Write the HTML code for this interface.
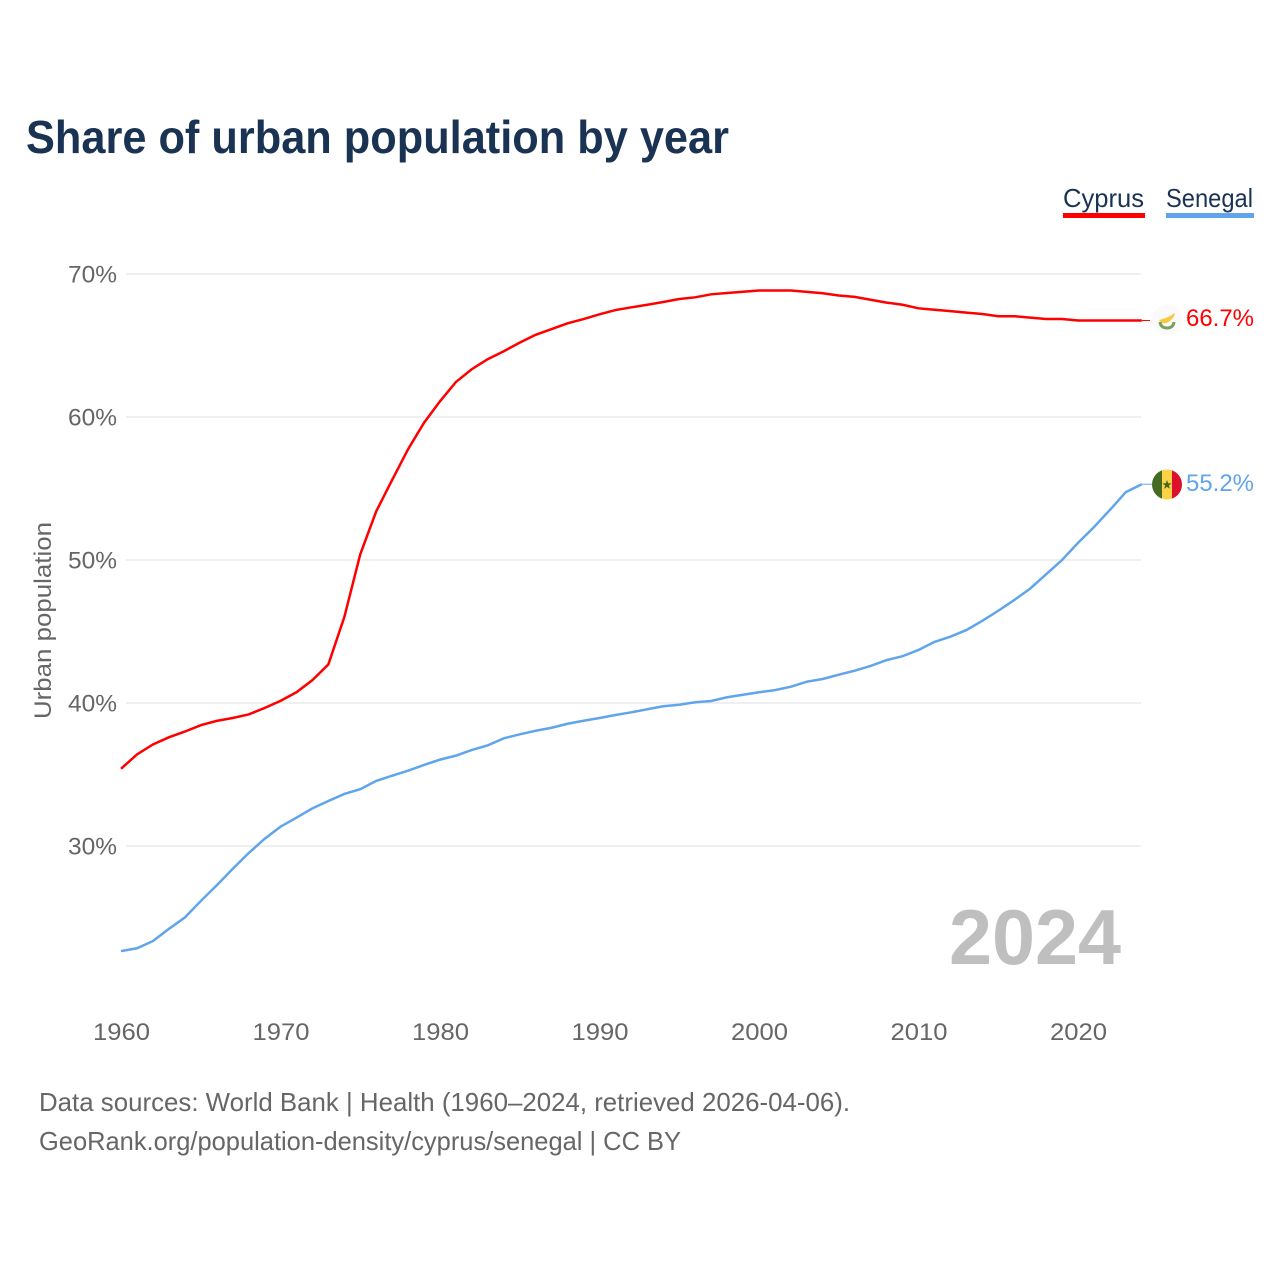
<!DOCTYPE html>
<html lang="en">
<head>
<meta charset="utf-8">
<title>Share of urban population by year</title>
<style>
html,body{margin:0;padding:0;background:#fff;width:1280px;height:1280px;overflow:hidden}
svg{display:block}
text{font-family:"Liberation Sans",Arial,sans-serif}
</style>
</head>
<body>
<svg id="chart" xmlns="http://www.w3.org/2000/svg" width="1280" height="1280" viewBox="0 0 1280 1280">
  <rect x="0" y="0" width="1280" height="1280" fill="#ffffff"/>
  <text x="26" y="153" font-size="46" font-weight="700" fill="#1a3353" textLength="703" lengthAdjust="spacingAndGlyphs">Share of urban population by year</text>

  <g id="grid"></g>
  <g id="yticks"></g>
  <g id="xticks"></g>

  <text transform="translate(51,620.5) rotate(-90)" text-anchor="middle" font-size="24" fill="#666666" textLength="197" lengthAdjust="spacingAndGlyphs">Urban population</text>

  <text x="1121" y="964" text-anchor="end" font-size="78" font-weight="700" fill="#bfbfbf" textLength="172" lengthAdjust="spacingAndGlyphs">2024</text>

  <g id="series"></g>

  <g>
    <text x="1063" y="207" font-size="26" fill="#1a3353" textLength="81" lengthAdjust="spacingAndGlyphs">Cyprus</text>
    <rect x="1063" y="213" width="82" height="5" fill="#ff0000"/>
  </g>
  <g>
    <text x="1166" y="207" font-size="26" fill="#1a3353" textLength="87" lengthAdjust="spacingAndGlyphs">Senegal</text>
    <rect x="1166" y="213" width="88" height="5" fill="#60a5ec"/>
  </g>

  <g id="flag-cyprus">
    <circle cx="1167" cy="320" r="15" fill="#fafafa"/>
    <path d="M1159 320 C1163 319 1170 317 1174.500 313 C1175 316 1173 318 1171 320 C1168.500 323 1164 324 1161 322.500 Z" fill="#f7c93f"/>
    <path d="M1160 322 C1160.500 326 1163 328 1167 328 C1171 328 1173.500 326 1174 322" fill="none" stroke="#7ba05b" stroke-width="3"/>
  </g>
  <g id="flag-senegal">
    <clipPath id="sn-clip"><circle cx="1167" cy="484.500" r="15"/></clipPath>
    <g clip-path="url(#sn-clip)">
      <rect x="1152" y="469" width="10" height="31" fill="#456b22"/>
      <rect x="1162" y="469" width="10" height="31" fill="#fdd247"/>
      <rect x="1172" y="469" width="10" height="31" fill="#dc0f2c"/>
      <polygon points="1167,480 1168.200,483.300 1171.700,483.400 1168.900,485.500 1169.900,488.900 1167,486.900 1164.100,488.900 1165.100,485.500 1162.300,483.400 1165.800,483.300" fill="#456b22"/>
    </g>
  </g>

  <text x="1186" y="326" font-size="24" fill="#ff0000" textLength="68" lengthAdjust="spacingAndGlyphs">66.7%</text>
  <text x="1186" y="491" font-size="24" fill="#60a5ec" textLength="68" lengthAdjust="spacingAndGlyphs">55.2%</text>

  <text x="39" y="1111" font-size="26" fill="#666666" textLength="811" lengthAdjust="spacingAndGlyphs">Data sources: World Bank | Health (1960–2024, retrieved 2026-04-06).</text>
  <text x="39" y="1150" font-size="26" fill="#666666" textLength="642" lengthAdjust="spacingAndGlyphs">GeoRank.org/population-density/cyprus/senegal | CC BY</text>
</svg>
<script>
const startYear = 1960;
const yTickValues = [30, 40, 50, 60, 70];
const xTickValues = [1960, 1970, 1980, 1990, 2000, 2010, 2020];
const cyprusValues = [
  35.4, 36.4, 37.1, 37.6, 38.0, 38.45, 38.75, 38.95, 39.2, 39.65,
  40.15, 40.75, 41.6, 42.7, 46.0, 50.4, 53.4, 55.6, 57.75, 59.6,
  61.1, 62.45, 63.35, 64.05, 64.6, 65.2, 65.75, 66.15, 66.55, 66.85,
  67.18, 67.48, 67.67, 67.85, 68.04, 68.25, 68.37, 68.58, 68.67, 68.76,
  68.85, 68.85, 68.85, 68.75, 68.65, 68.5, 68.4, 68.2, 68.0, 67.85,
  67.6, 67.5, 67.4, 67.3, 67.2, 67.05, 67.05, 66.95, 66.85, 66.85,
  66.75, 66.75, 66.75, 66.75, 66.75
];
const senegalValues = [
  22.65, 22.85, 23.35, 24.2, 25.0, 26.15, 27.25, 28.4, 29.5, 30.5,
  31.35, 31.98, 32.63, 33.15, 33.64, 33.97, 34.55, 34.92, 35.27, 35.67,
  36.04, 36.32, 36.72, 37.04, 37.53, 37.81, 38.06, 38.27, 38.55, 38.76,
  38.95, 39.16, 39.35, 39.56, 39.77, 39.88, 40.05, 40.14, 40.4, 40.58,
  40.75, 40.9, 41.14, 41.49, 41.68, 41.98, 42.26, 42.59, 43.0, 43.27,
  43.71, 44.27, 44.64, 45.1, 45.75, 46.45, 47.2, 48.0, 49.0, 50.0,
  51.2, 52.3, 53.5, 54.75, 55.3
];

const NS = 'http://www.w3.org/2000/svg';
function xScale(year) { return 121 + (year - 1960) * 15.95; }
function yScale(value) { return 274 + (70 - value) * 14.3; }

const gridLayer = document.getElementById('grid');
const yLayer = document.getElementById('yticks');
const xLayer = document.getElementById('xticks');
const seriesLayer = document.getElementById('series');

yTickValues.forEach(function (v) {
  const line = document.createElementNS(NS, 'line');
  
  
  line.setAttribute('x1', 126);
  line.setAttribute('x2', 1141);
  line.setAttribute('y1', yScale(v));
  line.setAttribute('y2', yScale(v));
  line.setAttribute('stroke', '#efefef');
  line.setAttribute('stroke-width', 2);
  gridLayer.appendChild(line);

  const label = document.createElementNS(NS, 'text');
  
  
  label.setAttribute('x', 117);
  label.setAttribute('y', yScale(v) + 8.5);
  label.setAttribute('text-anchor', 'end');
  label.setAttribute('font-size', 24);
  label.setAttribute('fill', '#666666');
  label.setAttribute('textLength', 49);
  label.setAttribute('lengthAdjust', 'spacingAndGlyphs');
  label.textContent = v + '%';
  yLayer.appendChild(label);
});

xTickValues.forEach(function (y) {
  const label = document.createElementNS(NS, 'text');
  
  
  label.setAttribute('x', xScale(y) + 0.5);
  label.setAttribute('y', 1040);
  label.setAttribute('text-anchor', 'middle');
  label.setAttribute('font-size', 24);
  label.setAttribute('fill', '#666666');
  label.setAttribute('textLength', 57);
  label.setAttribute('lengthAdjust', 'spacingAndGlyphs');
  label.textContent = y;
  xLayer.appendChild(label);
});

function toPoints(values) {
  return values.map(function (v, i) {
    return xScale(startYear + i).toFixed(2) + ',' + yScale(v).toFixed(2);
  }).join(' ');
}

const cyprusLine = document.createElementNS(NS, 'polyline');


cyprusLine.setAttribute('points', toPoints(cyprusValues));
cyprusLine.setAttribute('fill', 'none');
cyprusLine.setAttribute('stroke', '#ff0000');
cyprusLine.setAttribute('stroke-width', 2.5);
seriesLayer.appendChild(cyprusLine);

const senegalLine = document.createElementNS(NS, 'polyline');


senegalLine.setAttribute('points', toPoints(senegalValues));
senegalLine.setAttribute('fill', 'none');
senegalLine.setAttribute('stroke', '#60a5ec');
senegalLine.setAttribute('stroke-width', 2.5);
seriesLayer.appendChild(senegalLine);

const lastYear = startYear + cyprusValues.length - 1;

const cyprusLeader = document.createElementNS(NS, 'line');


cyprusLeader.setAttribute('x1', xScale(lastYear));
cyprusLeader.setAttribute('x2', 1150);
cyprusLeader.setAttribute('y1', yScale(cyprusValues[cyprusValues.length - 1]));
cyprusLeader.setAttribute('y2', yScale(cyprusValues[cyprusValues.length - 1]));
cyprusLeader.setAttribute('stroke', '#ff0000');
cyprusLeader.setAttribute('stroke-width', 1);
seriesLayer.appendChild(cyprusLeader);

const senegalLeader = document.createElementNS(NS, 'line');


senegalLeader.setAttribute('x1', xScale(lastYear));
senegalLeader.setAttribute('x2', 1152);
senegalLeader.setAttribute('y1', yScale(senegalValues[senegalValues.length - 1]));
senegalLeader.setAttribute('y2', yScale(senegalValues[senegalValues.length - 1]));
senegalLeader.setAttribute('stroke', '#60a5ec');
senegalLeader.setAttribute('stroke-width', 1);
seriesLayer.appendChild(senegalLeader);
</script>
</body>
</html>
